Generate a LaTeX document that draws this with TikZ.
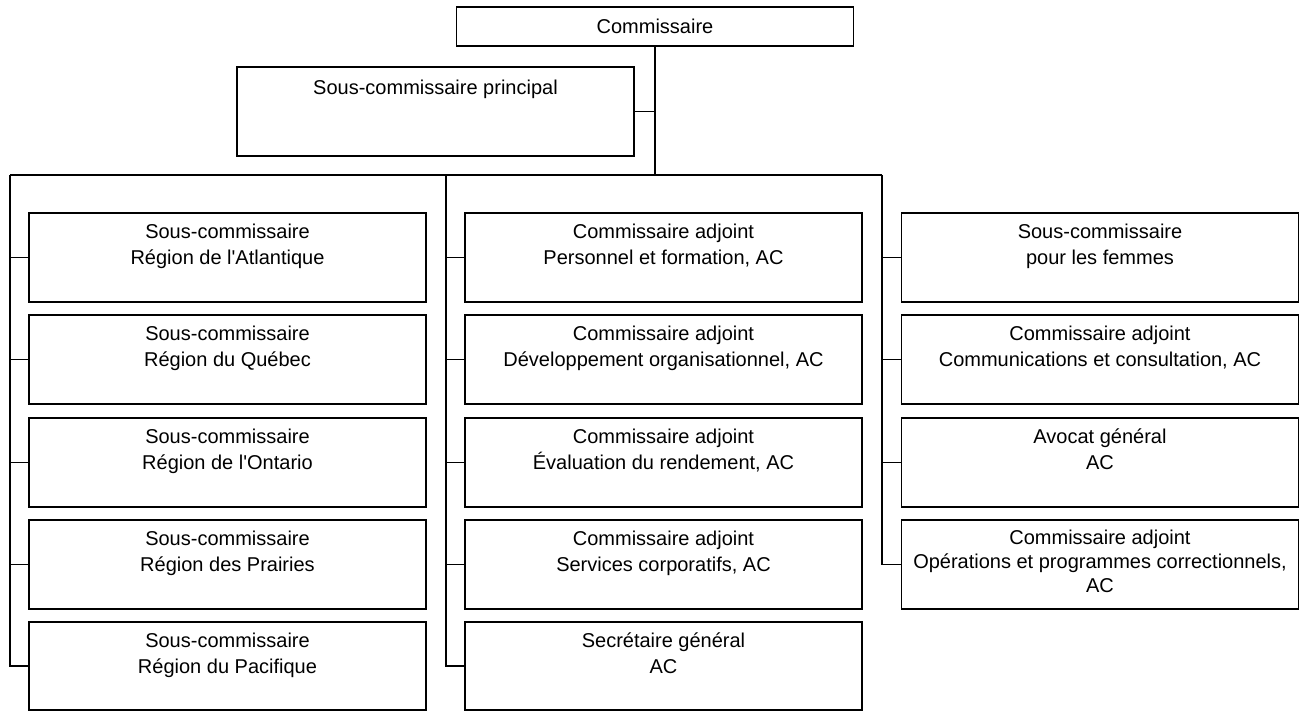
\documentclass[tikz,border=0pt]{standalone}
\usepackage{fontspec}
\setmainfont{Liberation Sans}
\begin{document}
\begin{tikzpicture}[x=1pt,y=-1pt,
  box/.style={draw, line width=1.2pt, minimum width=397pt, minimum height=89pt, inner sep=0pt, outer sep=0pt},
  lbl/.style={anchor=north, inner sep=0pt, align=center, font=\fontsize{20}{25.5}\selectfont, execute at begin node={\rule{0pt}{15pt}}},
  link/.style={line width=1.2pt}]
\useasboundingbox (0,0) rectangle (1303,711);

% top
\node[box, minimum height=39pt] (C) at (655,26.5) {};
\node[inner sep=0pt, font=\fontsize{20}{25.5}\selectfont] (Ct) at (C) {Commissaire};
\node[box] (P) at (435.5,111.5) {};
\node[lbl] (Pt) at ([yshift=-12pt]P.north) {Sous-commissaire principal};

% bus
\coordinate (busL) at (10,175);
\coordinate (busM) at (446,175);
\coordinate (busR) at (882,175);
\draw[link] (busL) -- (busR);
\draw[link] (C.south) -- (C.south |- busL);
\draw[link] (P.east) -- (P.east -| C.south);

% left column
\node[box] (L1) at (227.5,257.5) {};
\node[box] (L2) at (227.5,359.5) {};
\node[box] (L3) at (227.5,462.5) {};
\node[box] (L4) at (227.5,564.5) {};
\node[box, minimum height=88pt] (L5) at (227.5,666) {};
\node[lbl] (L1t) at ([yshift=-11pt]L1.north) {Sous-commissaire\\Région de l\textquotesingle Atlantique};
\node[lbl] (L2t) at ([yshift=-11pt]L2.north) {Sous-commissaire\\Région du Québec};
\node[lbl] (L3t) at ([yshift=-11pt]L3.north) {Sous-commissaire\\Région de l\textquotesingle Ontario};
\node[lbl] (L4t) at ([yshift=-11pt]L4.north) {Sous-commissaire\\Région des Prairies};
\node[lbl] (L5t) at ([yshift=-11pt]L5.north) {Sous-commissaire\\Région du Pacifique};
\draw[link] (busL) |- (L5.west);
\foreach \n in {L1,L2,L3,L4} \draw[link] (\n.west) -- (\n.west -| busL);

% middle column
\node[box] (M1) at (663.5,257.5) {};
\node[box] (M2) at (663.5,359.5) {};
\node[box] (M3) at (663.5,462.5) {};
\node[box] (M4) at (663.5,564.5) {};
\node[box, minimum height=88pt] (M5) at (663.5,666) {};
\node[lbl] (M1t) at ([yshift=-11pt]M1.north) {Commissaire adjoint\\Personnel et formation, AC};
\node[lbl] (M2t) at ([yshift=-11pt]M2.north) {Commissaire adjoint\\Développement organisationnel, AC};
\node[lbl] (M3t) at ([yshift=-11pt]M3.north) {Commissaire adjoint\\Évaluation du rendement, AC};
\node[lbl] (M4t) at ([yshift=-11pt]M4.north) {Commissaire adjoint\\Services corporatifs, AC};
\node[lbl] (M5t) at ([yshift=-11pt]M5.north) {Secrétaire général\\AC};
\draw[link] (busM) |- (M5.west);
\foreach \n in {M1,M2,M3,M4} \draw[link] (\n.west) -- (\n.west -| busM);

% right column
\node[box] (R1) at (1100,257.5) {};
\node[box] (R2) at (1100,359.5) {};
\node[box] (R3) at (1100,462.5) {};
\node[box] (R4) at (1100,564.5) {};
\node[lbl] (R1t) at ([yshift=-11pt]R1.north) {Sous-commissaire\\pour les femmes};
\node[lbl] (R2t) at ([yshift=-11pt]R2.north) {Commissaire adjoint\\Communications et consultation, AC};
\node[lbl] (R3t) at ([yshift=-11pt]R3.north) {Avocat général\\AC};
\node[lbl, font=\fontsize{20}{24}\selectfont] (R4t) at ([yshift=-10pt]R4.north) {Commissaire adjoint\\Opérations et programmes correctionnels,\\AC};
\draw[link] (busR) |- (R4.west);
\foreach \n in {R1,R2,R3} \draw[link] (\n.west) -- (\n.west -| busR);
\end{tikzpicture}
\end{document}
